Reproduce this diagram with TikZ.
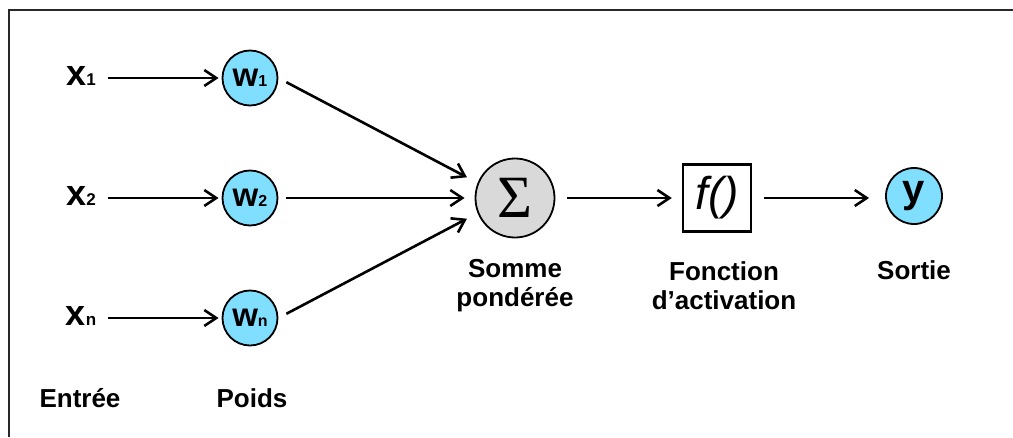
\documentclass[tikz,border=0pt]{standalone}
\usepackage{fontspec}
\setmainfont{Liberation Sans}
\newfontfamily\serifsig{Liberation Serif}
\usetikzlibrary{arrows.meta}
\definecolor{wblue}{RGB}{128,223,255}
\definecolor{sgray}{RGB}{217,217,217}
\definecolor{framec}{RGB}{40,40,40}
\newcommand{\fsz}[1]{\fontsize{#1}{#1}\selectfont}
\begin{document}
\begin{tikzpicture}[x=1pt,y=-1pt,
  conn/.style={line width=2.6pt,-{Straight Barb[length=12pt,width=16pt,line width=2.6pt]}},
  inlabel/.style={inner sep=0pt,font=\bfseries\fsz{36}},
  wnode/.style={circle,draw=black,line width=1.8pt,fill=wblue,minimum size=55pt,inner sep=0pt,font=\bfseries\fsz{33}},
  caption/.style={align=center,font=\bfseries\fsz{26},inner sep=0pt}]
\useasboundingbox (0,0) rectangle (1013,437);
\draw[framec,line width=1.4pt] (9,437) -- (9,10) -- (1013,10);
% inputs
\node[inlabel] (x1) at (81,76) {x{\fsz{17}1}};
\node[inlabel] (x2) at (81,196) {x{\fsz{17}2}};
\node[inlabel] (xn) at (81,316) {x{\fsz{17}n}};
% weights
\node[wnode] (w1) at (250,78) {w{\fsz{16}1}};
\node[wnode] (w2) at (250,198) {w{\fsz{16}2}};
\node[wnode] (wn) at (250,318) {w{\fsz{16}n}};
% sum
\node[circle,draw=black,line width=1.8pt,fill=sgray,minimum size=79pt,inner sep=0pt,font=\serifsig\fsz{60}] (sig) at (515,198) {Σ};
% activation
\node[draw=black,line width=2.4pt,minimum width=68pt,minimum height=67pt,inner sep=0pt,font=\itshape\fsz{46}] (f) at (717,198) {f()};
% output
\node[circle,draw=black,line width=1.8pt,fill=wblue,minimum size=56pt,inner sep=0pt,font=\bfseries\fsz{40}] (y) at (914,196) {y};
% captions
\node[caption] (lin) at (80,398) {Entrée};
\node[caption] (lpo) at (252,398) {Poids};
\node[caption] (lso) at (515,286) {Somme\\[3pt]pondérée};
\node[caption] (lfo) at (724,286) {Fonction\\[3pt]d’activation};
\node[caption] (lsr) at (914,270) {Sortie};
% connectors
\draw[conn,shorten <=12pt,shorten >=3pt] (x1.east |- w1.west) -- (w1.west);
\draw[conn,shorten <=12pt,shorten >=3pt] (x2.east |- w2.west) -- (w2.west);
\draw[conn,shorten <=12pt,shorten >=3pt] (xn.east |- wn.west) -- (wn.west);
\draw[conn,shorten <=9pt,shorten >=12pt] (w1.east) -- (sig.158);
\draw[conn,shorten <=8pt,shorten >=10pt] (w2.east) -- (w2.east -| sig.west);
\draw[conn,shorten <=9pt,shorten >=12pt] (wn.east) -- (sig.202);
\draw[conn,shorten <=12pt,shorten >=10pt] (sig.east |- f.west) -- (f.west);
\draw[conn,shorten <=12pt,shorten >=16pt] (f.east) -- (f.east -| y.west);
\end{tikzpicture}
\end{document}
